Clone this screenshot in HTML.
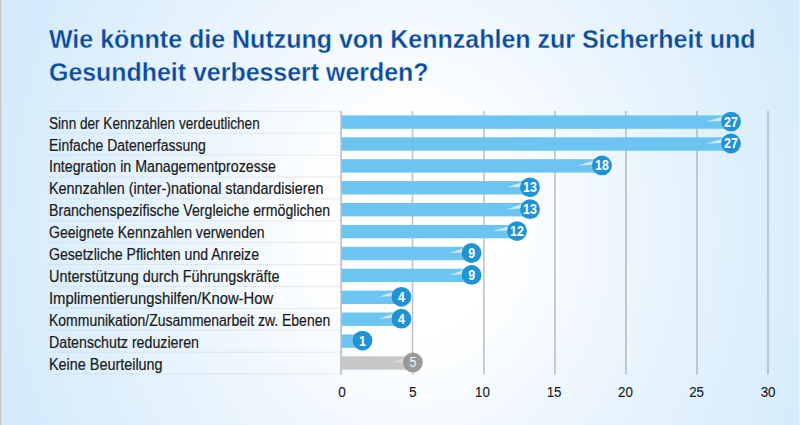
<!DOCTYPE html>
<html><head><meta charset="utf-8"><style>
html,body{margin:0;padding:0;width:800px;height:425px;overflow:hidden}
body{background:radial-gradient(ellipse 424px 506px at 414px 230px,#ffffff 0%,#ffffff 5%,#ffffff 10%,#ffffff 15%,#ffffff 20%,#fdfeff 25%,#f9fcfe 30%,#f6fbfe 35%,#f3f9fe 40%,#f0f8fe 45%,#edf6fd 50%,#eaf5fd 55%,#e8f4fd 60%,#e5f3fd 65%,#e3f2fc 70%,#e0f0fc 75%,#deeffc 80%,#dceefc 85%,#d9edfb 90%,#d7ecfb 95%,#d5ebfb 100%);position:relative}
svg{position:absolute;left:0;top:0}
text{font-family:"Liberation Sans",sans-serif}
</style></head><body>
<svg width="800" height="425" viewBox="0 0 800 425">
<rect x="0" y="0" width="1" height="425" fill="#c6c6c6"/>
<rect x="1" y="0" width="1" height="425" fill="#c6c6c6" opacity="0.35"/>
<rect x="799" y="0" width="1" height="425" fill="#ffffff" opacity="0.5"/>

<text x="49" y="47.5" font-size="25.5" font-weight="bold" fill="#0b4c9c" stroke="#e9f4fd" stroke-width="0.35" stroke-opacity="0.9" textLength="706.5" lengthAdjust="spacingAndGlyphs">Wie könnte die Nutzung von Kennzahlen zur Sicherheit und</text>
<text x="49" y="81.3" font-size="25.5" font-weight="bold" fill="#0b4c9c" stroke="#e9f4fd" stroke-width="0.35" stroke-opacity="0.9" textLength="379.5" lengthAdjust="spacingAndGlyphs">Gesundheit verbessert werden?</text>
<line x1="49" y1="111.30" x2="341" y2="111.30" stroke="#d2d5d8" stroke-width="1" stroke-dasharray="1 1"/>
<line x1="49" y1="133.20" x2="341" y2="133.20" stroke="#d2d5d8" stroke-width="1" stroke-dasharray="1 1"/>
<line x1="49" y1="155.10" x2="341" y2="155.10" stroke="#d2d5d8" stroke-width="1" stroke-dasharray="1 1"/>
<line x1="49" y1="177.00" x2="341" y2="177.00" stroke="#d2d5d8" stroke-width="1" stroke-dasharray="1 1"/>
<line x1="49" y1="198.90" x2="341" y2="198.90" stroke="#d2d5d8" stroke-width="1" stroke-dasharray="1 1"/>
<line x1="49" y1="220.80" x2="341" y2="220.80" stroke="#d2d5d8" stroke-width="1" stroke-dasharray="1 1"/>
<line x1="49" y1="242.70" x2="341" y2="242.70" stroke="#d2d5d8" stroke-width="1" stroke-dasharray="1 1"/>
<line x1="49" y1="264.60" x2="341" y2="264.60" stroke="#d2d5d8" stroke-width="1" stroke-dasharray="1 1"/>
<line x1="49" y1="286.50" x2="341" y2="286.50" stroke="#d2d5d8" stroke-width="1" stroke-dasharray="1 1"/>
<line x1="49" y1="308.40" x2="341" y2="308.40" stroke="#d2d5d8" stroke-width="1" stroke-dasharray="1 1"/>
<line x1="49" y1="330.30" x2="341" y2="330.30" stroke="#d2d5d8" stroke-width="1" stroke-dasharray="1 1"/>
<line x1="49" y1="352.20" x2="341" y2="352.20" stroke="#d2d5d8" stroke-width="1" stroke-dasharray="1 1"/>
<line x1="49" y1="374.10" x2="341" y2="374.10" stroke="#d2d5d8" stroke-width="1" stroke-dasharray="1 1"/>
<rect x="411.70" y="111" width="1.6" height="263.5" fill="#8c9096" fill-opacity="0.55"/>
<rect x="483.10" y="111" width="1.6" height="263.5" fill="#8c9096" fill-opacity="0.55"/>
<rect x="554.10" y="111" width="1.6" height="263.5" fill="#8c9096" fill-opacity="0.55"/>
<rect x="625.10" y="111" width="1.6" height="263.5" fill="#8c9096" fill-opacity="0.55"/>
<rect x="696.20" y="111" width="1.6" height="263.5" fill="#8c9096" fill-opacity="0.55"/>
<rect x="767.20" y="111" width="1.6" height="263.5" fill="#8c9096" fill-opacity="0.55"/>
<rect x="340.30" y="111" width="1.6" height="263.5" fill="#8c9096" fill-opacity="0.6"/>
<rect x="341.80" y="115.40" width="389.20" height="13.4" fill="#6cc5f0"/>
<polygon points="706.00,121.60 722.00,117.00 722.00,121.00" fill="#e4eef4" opacity="0.85"/>
<circle cx="731.00" cy="121.60" r="9.9" fill="#2093d5"/>
<text x="724.10" y="126.50" font-size="14" font-weight="bold" fill="#fff" textLength="13.8" lengthAdjust="spacingAndGlyphs">27</text>
<rect x="341.80" y="137.30" width="389.20" height="13.4" fill="#6cc5f0"/>
<polygon points="706.00,143.50 722.00,138.90 722.00,142.90" fill="#e4eef4" opacity="0.85"/>
<circle cx="731.00" cy="143.50" r="9.9" fill="#2093d5"/>
<text x="724.10" y="148.40" font-size="14" font-weight="bold" fill="#fff" textLength="13.8" lengthAdjust="spacingAndGlyphs">27</text>
<rect x="341.80" y="159.20" width="260.20" height="13.4" fill="#6cc5f0"/>
<polygon points="578.00,165.40 593.00,160.80 593.00,164.80" fill="#e4eef4" opacity="0.85"/>
<circle cx="602.00" cy="165.40" r="9.9" fill="#2093d5"/>
<text x="595.10" y="170.30" font-size="14" font-weight="bold" fill="#fff" textLength="13.8" lengthAdjust="spacingAndGlyphs">18</text>
<rect x="341.80" y="181.10" width="188.20" height="13.4" fill="#6cc5f0"/>
<polygon points="506.50,187.30 521.00,182.70 521.00,186.70" fill="#e4eef4" opacity="0.85"/>
<circle cx="530.00" cy="187.30" r="9.9" fill="#2093d5"/>
<text x="523.10" y="192.20" font-size="14" font-weight="bold" fill="#fff" textLength="13.8" lengthAdjust="spacingAndGlyphs">13</text>
<rect x="341.80" y="203.00" width="188.20" height="13.4" fill="#6cc5f0"/>
<polygon points="506.50,209.20 521.00,204.60 521.00,208.60" fill="#e4eef4" opacity="0.85"/>
<circle cx="530.00" cy="209.20" r="9.9" fill="#2093d5"/>
<text x="523.10" y="214.10" font-size="14" font-weight="bold" fill="#fff" textLength="13.8" lengthAdjust="spacingAndGlyphs">13</text>
<rect x="341.80" y="224.90" width="175.20" height="13.4" fill="#6cc5f0"/>
<polygon points="492.50,231.10 508.00,226.50 508.00,230.50" fill="#e4eef4" opacity="0.85"/>
<circle cx="517.00" cy="231.10" r="9.9" fill="#2093d5"/>
<text x="510.10" y="236.00" font-size="14" font-weight="bold" fill="#fff" textLength="13.8" lengthAdjust="spacingAndGlyphs">12</text>
<rect x="341.80" y="246.80" width="129.80" height="13.4" fill="#6cc5f0"/>
<polygon points="450.00,253.00 462.60,248.40 462.60,252.40" fill="#e4eef4" opacity="0.85"/>
<circle cx="471.60" cy="253.00" r="9.9" fill="#2093d5"/>
<text x="468.15" y="257.90" font-size="14" font-weight="bold" fill="#fff" textLength="6.9" lengthAdjust="spacingAndGlyphs">9</text>
<rect x="341.80" y="268.70" width="129.80" height="13.4" fill="#6cc5f0"/>
<polygon points="450.00,274.90 462.60,270.30 462.60,274.30" fill="#e4eef4" opacity="0.85"/>
<circle cx="471.60" cy="274.90" r="9.9" fill="#2093d5"/>
<text x="468.15" y="279.80" font-size="14" font-weight="bold" fill="#fff" textLength="6.9" lengthAdjust="spacingAndGlyphs">9</text>
<rect x="341.80" y="290.60" width="59.60" height="13.4" fill="#6cc5f0"/>
<polygon points="378.60,296.80 392.40,292.20 392.40,296.20" fill="#e4eef4" opacity="0.85"/>
<circle cx="401.40" cy="296.80" r="9.9" fill="#2093d5"/>
<text x="397.95" y="301.70" font-size="14" font-weight="bold" fill="#fff" textLength="6.9" lengthAdjust="spacingAndGlyphs">4</text>
<rect x="341.80" y="312.50" width="59.60" height="13.4" fill="#6cc5f0"/>
<polygon points="378.60,318.70 392.40,314.10 392.40,318.10" fill="#e4eef4" opacity="0.85"/>
<circle cx="401.40" cy="318.70" r="9.9" fill="#2093d5"/>
<text x="397.95" y="323.60" font-size="14" font-weight="bold" fill="#fff" textLength="6.9" lengthAdjust="spacingAndGlyphs">4</text>
<rect x="341.80" y="334.40" width="20.70" height="13.4" fill="#6cc5f0"/>
<circle cx="362.50" cy="340.60" r="9.9" fill="#2093d5"/>
<text x="359.05" y="345.50" font-size="14" font-weight="bold" fill="#fff" textLength="6.9" lengthAdjust="spacingAndGlyphs">1</text>
<rect x="341.80" y="356.30" width="71.10" height="13.4" fill="#c8c8c8"/>
<polygon points="392.90,362.50 403.90,357.90 403.90,361.90" fill="#dedede" opacity="0.85"/>
<circle cx="412.90" cy="362.50" r="9.9" fill="#9a9a9a"/>
<text x="409.45" y="367.40" font-size="14" font-weight="normal" fill="#f4f4f4" textLength="6.9" lengthAdjust="spacingAndGlyphs">5</text>
<text x="49.0" y="128.60" font-size="16" fill="#1a1a1a" stroke="#1a1a1a" stroke-width="0.2" textLength="210.7" lengthAdjust="spacingAndGlyphs">Sinn der Kennzahlen verdeutlichen</text>
<text x="49.0" y="150.50" font-size="16" fill="#1a1a1a" stroke="#1a1a1a" stroke-width="0.2" textLength="156.7" lengthAdjust="spacingAndGlyphs">Einfache Datenerfassung</text>
<text x="49.0" y="172.40" font-size="16" fill="#1a1a1a" stroke="#1a1a1a" stroke-width="0.2" textLength="226.8" lengthAdjust="spacingAndGlyphs">Integration in Managementprozesse</text>
<text x="49.0" y="194.30" font-size="16" fill="#1a1a1a" stroke="#1a1a1a" stroke-width="0.2" textLength="274.5" lengthAdjust="spacingAndGlyphs">Kennzahlen (inter-)national standardisieren</text>
<text x="49.0" y="216.20" font-size="16" fill="#1a1a1a" stroke="#1a1a1a" stroke-width="0.2" textLength="281.2" lengthAdjust="spacingAndGlyphs">Branchenspezifische Vergleiche ermöglichen</text>
<text x="49.0" y="238.10" font-size="16" fill="#1a1a1a" stroke="#1a1a1a" stroke-width="0.2" textLength="215.6" lengthAdjust="spacingAndGlyphs">Geeignete Kennzahlen verwenden</text>
<text x="49.0" y="260.00" font-size="16" fill="#1a1a1a" stroke="#1a1a1a" stroke-width="0.2" textLength="210.0" lengthAdjust="spacingAndGlyphs">Gesetzliche Pflichten und Anreize</text>
<text x="49.0" y="281.90" font-size="16" fill="#1a1a1a" stroke="#1a1a1a" stroke-width="0.2" textLength="230.6" lengthAdjust="spacingAndGlyphs">Unterstützung durch Führungskräfte</text>
<text x="49.0" y="303.80" font-size="16" fill="#1a1a1a" stroke="#1a1a1a" stroke-width="0.2" textLength="224.2" lengthAdjust="spacingAndGlyphs">Implimentierungshilfen/Know-How</text>
<text x="49.0" y="325.70" font-size="16" fill="#1a1a1a" stroke="#1a1a1a" stroke-width="0.2" textLength="281.2" lengthAdjust="spacingAndGlyphs">Kommunikation/Zusammenarbeit zw. Ebenen</text>
<text x="49.0" y="347.60" font-size="16" fill="#1a1a1a" stroke="#1a1a1a" stroke-width="0.2" textLength="150.0" lengthAdjust="spacingAndGlyphs">Datenschutz reduzieren</text>
<text x="49.0" y="369.50" font-size="16" fill="#1a1a1a" stroke="#1a1a1a" stroke-width="0.2" textLength="113.6" lengthAdjust="spacingAndGlyphs">Keine Beurteilung</text>
<text x="338.20" y="397.1" font-size="15.3" fill="#1a1a1a" stroke="#1a1a1a" stroke-width="0.15" textLength="7.6" lengthAdjust="spacingAndGlyphs">0</text>
<text x="409.10" y="397.1" font-size="15.3" fill="#1a1a1a" stroke="#1a1a1a" stroke-width="0.15" textLength="7.6" lengthAdjust="spacingAndGlyphs">5</text>
<text x="475.10" y="397.1" font-size="15.3" fill="#1a1a1a" stroke="#1a1a1a" stroke-width="0.15" textLength="14.8" lengthAdjust="spacingAndGlyphs">10</text>
<text x="546.70" y="397.1" font-size="15.3" fill="#1a1a1a" stroke="#1a1a1a" stroke-width="0.15" textLength="14.8" lengthAdjust="spacingAndGlyphs">15</text>
<text x="618.10" y="397.1" font-size="15.3" fill="#1a1a1a" stroke="#1a1a1a" stroke-width="0.15" textLength="14.8" lengthAdjust="spacingAndGlyphs">20</text>
<text x="689.20" y="397.1" font-size="15.3" fill="#1a1a1a" stroke="#1a1a1a" stroke-width="0.15" textLength="14.8" lengthAdjust="spacingAndGlyphs">25</text>
<text x="760.70" y="397.1" font-size="15.3" fill="#1a1a1a" stroke="#1a1a1a" stroke-width="0.15" textLength="14.8" lengthAdjust="spacingAndGlyphs">30</text>
</svg></body></html>
